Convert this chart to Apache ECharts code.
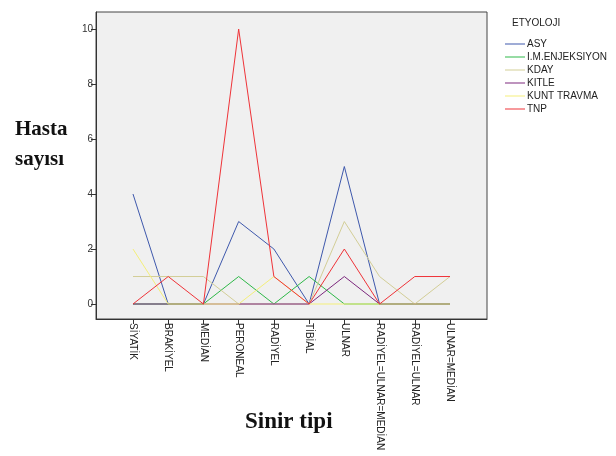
<!DOCTYPE html>
<html><head><meta charset="utf-8">
<script src="https://cdn.jsdelivr.net/npm/echarts@6/dist/echarts.min.js"></script>
<style>html,body{margin:0;padding:0;background:#fff}#c{width:616px;height:456px}</style>
</head><body><div id="c"></div>
<script>
const categories = ['SİYATİK','BRAKİYEL','MEDİAN','PERONEAL','RADİYEL','TİBİAL','ULNAR','RADİYEL=ULNAR=MEDİAN','RADİYEL=ULNAR','ULNAR=MEDİAN'];
const seriesNames = ['ASY','I.M.ENJEKSIYON','KDAY','KITLE','KUNT TRAVMA','TNP'];
const asy       = [4,0,0,3,2,0,5,0,0,0];
const imEnj     = [0,0,0,1,0,1,0,0,0,0];
const kday      = [1,1,1,0,0,0,3,1,0,1];
const kitle     = [0,0,0,0,0,0,1,0,0,0];
const kunt      = [2,0,0,0,1,0,0,0,0,0];
const tnp       = [0,1,0,10,1,0,2,0,1,1];
const yTicks    = [0,2,4,6,8,10];
const colors    = ['#3e58ac','#2eb848','#d3ce97','#7c287d','#f4ef7a','#ef3338'];
const allData = [asy, imEnj, kday, kitle, kunt, tnp];
const catIdx = categories.map((c,i)=>i);

const chart = echarts.init(document.getElementById('c'));
chart.setOption({
  animation:false,
  backgroundColor:'#fff',
  title:[
    {text:'ETYOLOJI', left:507, top:13, textStyle:{fontFamily:'Liberation Sans, Arial', fontSize:10, fontWeight:'normal', color:'#222'}},
    {text:'Hasta\nsayısı', left:10, top:110, textStyle:{fontFamily:'Liberation Serif, Times New Roman', fontSize:21, fontWeight:'bold', color:'#111', lineHeight:30}},
    {text:'Sinir tipi', left:240, top:406, textStyle:{fontFamily:'Liberation Serif, Times New Roman', fontSize:23, fontWeight:'bold', color:'#111'}}
  ],
  legend:{
    orient:'vertical', left:505, top:39, padding:0, icon:'rect', itemWidth:20, itemHeight:1, itemGap:3,
    textStyle:{fontFamily:'Liberation Sans, Arial', fontSize:10, color:'#222', padding:[0,0,0,-3]},
    data:seriesNames
  },
  grid:{left:96, right:129, top:12, bottom:137, show:true, backgroundColor:'#f0f0f0', borderColor:'#444', borderWidth:1, containLabel:false},
  xAxis:{
    type:'value', min:-1.05, max:10.05,
    axisLine:{show:true, onZero:false, lineStyle:{color:'#333'}},
    splitLine:{show:false},
    axisTick:{show:true, length:5, customValues:catIdx, lineStyle:{color:'#333'}},
    axisLabel:{customValues:catIdx, rotate:-90, margin:4, fontFamily:'Liberation Sans, Arial', fontSize:10, color:'#222',
      formatter:v=>categories[Math.round(v)]}
  },
  yAxis:{
    type:'value', min:-0.545, max:10.62,
    axisLine:{show:true, onZero:false, lineStyle:{color:'#333'}},
    splitLine:{show:false},
    axisTick:{show:true, length:5, customValues:yTicks, lineStyle:{color:'#333'}},
    axisLabel:{customValues:yTicks, margin:3, fontFamily:'Liberation Sans, Arial', fontSize:10, color:'#333'}
  },
  series: seriesNames.map((n,k)=>({
    name:n, type:'line', symbol:'none', color:colors[k],
    lineStyle:{width:1, color:colors[k]},
    data: allData[k].map((v,i)=>[i,v])
  }))
});
</script></body></html>
